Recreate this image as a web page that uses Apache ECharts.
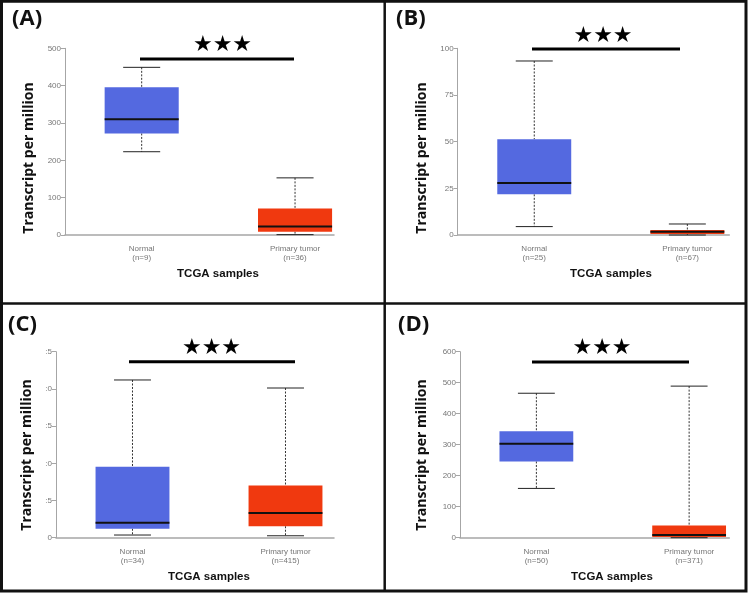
<!DOCTYPE html>
<html>
<head>
<meta charset="utf-8">
<title>TCGA boxplots</title>
<script src="https://cdn.jsdelivr.net/npm/echarts@6/dist/echarts.min.js"></script>
<style>
  html, body { margin: 0; padding: 0; background: #fff; }
  #main { width: 750px; height: 594px; }
</style>
</head>
<body>
<div id="main"></div>
<script>
// sample groups on the x axis
var groups = ['Normal', 'Primary tumor'];

// box stats per group: [min, q1, median, q3, max] (TPM)
var boxA = [[223, 272, 310, 396, 449], [1, 9, 23, 71, 153]];
var boxB = [[4.5, 21.8, 27.9, 51.3, 93.2], [0, 0.5, 1.7, 2.7, 5.9]];
var boxC = [[1.8, 6, 10, 47.7, 106], [1.3, 7.7, 16.6, 35, 100.6]];
var boxD = [[159, 246, 303, 343, 466], [0, 2, 9, 39, 489]];

// sample sizes
var countsA = [9, 36];
var countsB = [25, 67];
var countsC = [34, 415];
var countsD = [50, 371];

// y axis ranges
var yMax = [500, 100, 125, 600];
var yStep = [100, 25, 25, 100];

var panelLetters = ['(A)', '(B)', '(C)', '(D)'];
var boxColors = ['#5469e0', '#f0390f'];

var chart = echarts.init(document.getElementById('main'));

// layout of each panel (pixels)
var layout = [
    {grid: {left: 65, top: 48.3, width: 269, height: 186.7}, xmax: 1.254,
     title: [12, 19], yname: [29, 158], xname: [218, 274], stars: [222.5, 45], bar: [140, 294, 59]},
    {grid: {left: 457.7, top: 48.3, width: 271.6, height: 186.7}, xmax: 1.274,
     title: [396, 19], yname: [421.7, 158], xname: [611, 274], stars: [603, 36], bar: [532, 680, 49]},
    {grid: {left: 56, top: 351.7, width: 278, height: 186}, xmax: 1.317,
     title: [8, 325], yname: [27.3, 455], xname: [209, 576.7], stars: [211.5, 348.3], bar: [129, 295, 361.7]},
    {grid: {left: 460, top: 351.7, width: 269.3, height: 186}, xmax: 1.263,
     title: [398, 325], yname: [421.7, 455], xname: [612, 576.7], stars: [602, 348.3], bar: [532, 689, 362]}
];
var boxes = [boxA, boxB, boxC, boxD];
var counts = [countsA, countsB, countsC, countsD];

function renderBox(params, api) {
    var x = api.value(0);
    var lo = api.coord([x, api.value(1)]);
    var q1 = api.coord([x, api.value(2)]);
    var md = api.coord([x, api.value(3)]);
    var q3 = api.coord([x, api.value(4)]);
    var hi = api.coord([x, api.value(5)]);
    var w = api.size([0.483, 0])[0];
    var cx = lo[0];
    var dash = {stroke: '#333', lineWidth: 1, lineDash: [2, 1.5]};
    var cap = {stroke: '#222', lineWidth: 1};
    return {
        type: 'group',
        children: [
            {type: 'line', shape: {x1: cx, y1: hi[1], x2: cx, y2: q3[1]}, style: dash},
            {type: 'line', shape: {x1: cx, y1: q1[1], x2: cx, y2: lo[1]}, style: dash},
            {type: 'line', shape: {x1: cx - w / 4, y1: hi[1], x2: cx + w / 4, y2: hi[1]}, style: cap},
            {type: 'line', shape: {x1: cx - w / 4, y1: lo[1], x2: cx + w / 4, y2: lo[1]}, style: cap},
            {type: 'rect', shape: {x: cx - w / 2, y: q3[1], width: w, height: q1[1] - q3[1]},
             style: {fill: boxColors[x]}},
            {type: 'line', shape: {x1: cx - w / 2, y1: md[1], x2: cx + w / 2, y2: md[1]},
             style: {stroke: '#111', lineWidth: 2}}
        ]
    };
}

var grids = [], xAxes = [], yAxes = [], series = [], graphics = [];

layout.forEach(function (p, i) {
    grids.push(p.grid);
    var n = counts[i];
    xAxes.push({
        type: 'value', gridIndex: i, min: -0.5, max: p.xmax,
        splitLine: {show: false},
        axisTick: {show: false},
        axisLine: {show: true, lineStyle: {color: '#a6a6a6', width: 1.5}},
        axisLabel: {
            customValues: [0, 1],
            color: '#777', fontSize: 8, lineHeight: 9.5, margin: 9,
            fontFamily: 'Liberation Sans',
            formatter: function (v) {
                return groups[v] + '\n(n=' + n[v] + ')';
            }
        }
    });
    yAxes.push({
        type: 'value', gridIndex: i, min: 0, max: yMax[i], interval: yStep[i],
        splitLine: {show: false},
        axisLine: {show: true, onZero: false, lineStyle: {color: '#a6a6a6', width: 1}},
        axisTick: {show: true, length: 4, lineStyle: {color: '#a6a6a6'}},
        axisLabel: {
            color: '#777', fontSize: 8, margin: 4, fontFamily: 'Liberation Sans',
            // panel C labels were cut off at the left in the original
            formatter: i === 2 ? function (v) { return v === 0 ? '0' : ':' + (v % 10); } : null
        }
    });
    series.push({
        type: 'custom',
        xAxisIndex: i,
        yAxisIndex: i,
        renderItem: renderBox,
        encode: {x: 0, y: [1, 2, 3, 4, 5]},
        data: boxes[i].map(function (b, k) { return [k].concat(b); })
    });

    graphics.push(
        {type: 'text', x: p.title[0], y: p.title[1],
         style: {text: panelLetters[i], font: 'bold 22px "Open Sans"', fill: '#111', verticalAlign: 'middle'}},
        {type: 'text', x: p.yname[0], y: p.yname[1], rotation: Math.PI / 2,
         style: {text: 'Transcript per million', font: 'bold 14px "Open Sans"', fill: '#111',
                 align: 'center', verticalAlign: 'middle'}},
        {type: 'text', x: p.xname[0], y: p.xname[1],
         style: {text: 'TCGA samples', font: 'bold 11.5px "Liberation Sans"', fill: '#111',
                 align: 'center', verticalAlign: 'middle'}},
        {type: 'text', x: p.stars[0], y: p.stars[1],
         style: {text: '★★★', font: '22px "DejaVu Sans"', fill: '#000',
                 align: 'center', verticalAlign: 'middle'}},
        {type: 'line', shape: {x1: p.bar[0], y1: p.bar[2], x2: p.bar[1], y2: p.bar[2]},
         style: {stroke: '#000', lineWidth: 3}}
    );
});

// panel frames
graphics.push(
    {type: 'rect', shape: {x: 1.5, y: 1.3, width: 744.5, height: 589.7},
     style: {fill: 'none', stroke: '#111', lineWidth: 3}},
    {type: 'line', shape: {x1: 384.7, y1: 0, x2: 384.7, y2: 592}, style: {stroke: '#111', lineWidth: 2.5}},
    {type: 'line', shape: {x1: 0, y1: 303.5, x2: 747, y2: 303.5}, style: {stroke: '#111', lineWidth: 2.5}}
);

var option = {
    animation: false,
    grid: grids,
    xAxis: xAxes,
    yAxis: yAxes,
    series: series,
    graphic: graphics
};
chart.setOption(option);
</script>
</body>
</html>
